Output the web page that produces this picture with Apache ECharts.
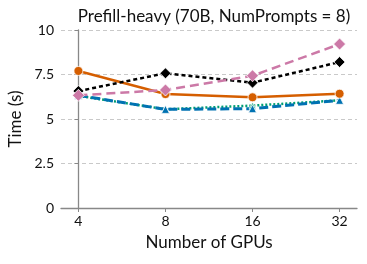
<!DOCTYPE html>
<html><head><meta charset="utf-8">
<script src="https://cdn.jsdelivr.net/npm/echarts@6/dist/echarts.min.js"></script>
<style>html,body{margin:0;padding:0;background:#fff}#c{width:367px;height:264px}</style>
</head><body><div id="c"></div>
<script>
const categories = ['4', '8', '16', '32'];
const yTicks = [0, 2.5, 5, 7.5, 10];
const seriesGreen = [6.30, 5.55, 5.75, 6.05];
const seriesBlue = [6.33, 5.54, 5.58, 6.05];
const seriesOrange = [7.70, 6.40, 6.22, 6.42];
const seriesBlack = [6.57, 7.57, 7.04, 8.20];
const seriesPink = [6.33, 6.63, 7.43, 9.21];

const font = 'Lato';
const toPts = arr => arr.map((v, i) => [i, v]);
function mk(name, data, color, dash, symbol, size, width) {
  return {
    name, type: 'line', data: toPts(data), symbol, symbolSize: size,
    lineStyle: { color, width: width || 2, type: dash },
    itemStyle: { color, borderColor: '#fff', borderWidth: 0.8 },
    emphasis: { disabled: true }, animation: false
  };
}
const chart = echarts.init(document.getElementById('c'), null, { renderer: 'canvas' });
chart.setOption({
  animation: false,
  title: { text: 'Prefill-heavy (70B, NumPrompts = 8)', left: 209, textAlign: 'center', top: 3,
    textStyle: { fontFamily: font, fontSize: 17, fontWeight: 'normal', color: '#111' } },
  grid: { left: 61, right: 10, top: 30, bottom: 56, outerBoundsMode: 'none' },
  xAxis: {
    type: 'value', min: -0.2, max: 3.2,
    name: 'Number of GPUs', nameLocation: 'middle', nameGap: 26,
    nameTextStyle: { fontFamily: font, fontSize: 17, color: '#111' },
    axisLine: { show: true, onZero: false, lineStyle: { color: '#888', width: 1.3 } },
    axisTick: { show: true, length: 4, customValues: [0, 1, 2, 3], lineStyle: { color: '#888' } },
    axisLabel: { customValues: [0, 1, 2, 3], formatter: v => categories[Math.round(v)], margin: 6,
      fontFamily: font, fontSize: 14, color: '#111' },
    splitLine: { show: false }
  },
  yAxis: {
    type: 'value', min: 0, max: 10, interval: 2.5,
    name: 'Time (s)', nameLocation: 'middle', nameGap: 36,
    nameTextStyle: { fontFamily: font, fontSize: 17, color: '#111' },
    axisLine: { show: true, lineStyle: { color: '#888', width: 1.3 } },
    axisTick: { show: true, length: 4, lineStyle: { color: '#888' } },
    axisLabel: { margin: 7, fontFamily: font, fontSize: 14, color: '#111',
      formatter: v => yTicks.includes(v) ? String(v) : '' },
    splitLine: { show: true, lineStyle: { color: '#bbb', type: [4, 3], width: 0.8 } }
  },
  series: [
    mk('green', seriesGreen, '#009e73', [2, 2], 'triangle', 7, 2.5),
    mk('blue', seriesBlue, '#0072b2', [9, 4], 'triangle', 8, 3),
    mk('orange', seriesOrange, '#d55e00', 'solid', 'circle', 9, 2.5),
    mk('black', seriesBlack, '#000', [4, 3], 'diamond', 11, 2.5),
    mk('pink', seriesPink, '#cc79a7', [9, 5], 'diamond', 12, 2.5)
  ]
});
</script></body></html>
